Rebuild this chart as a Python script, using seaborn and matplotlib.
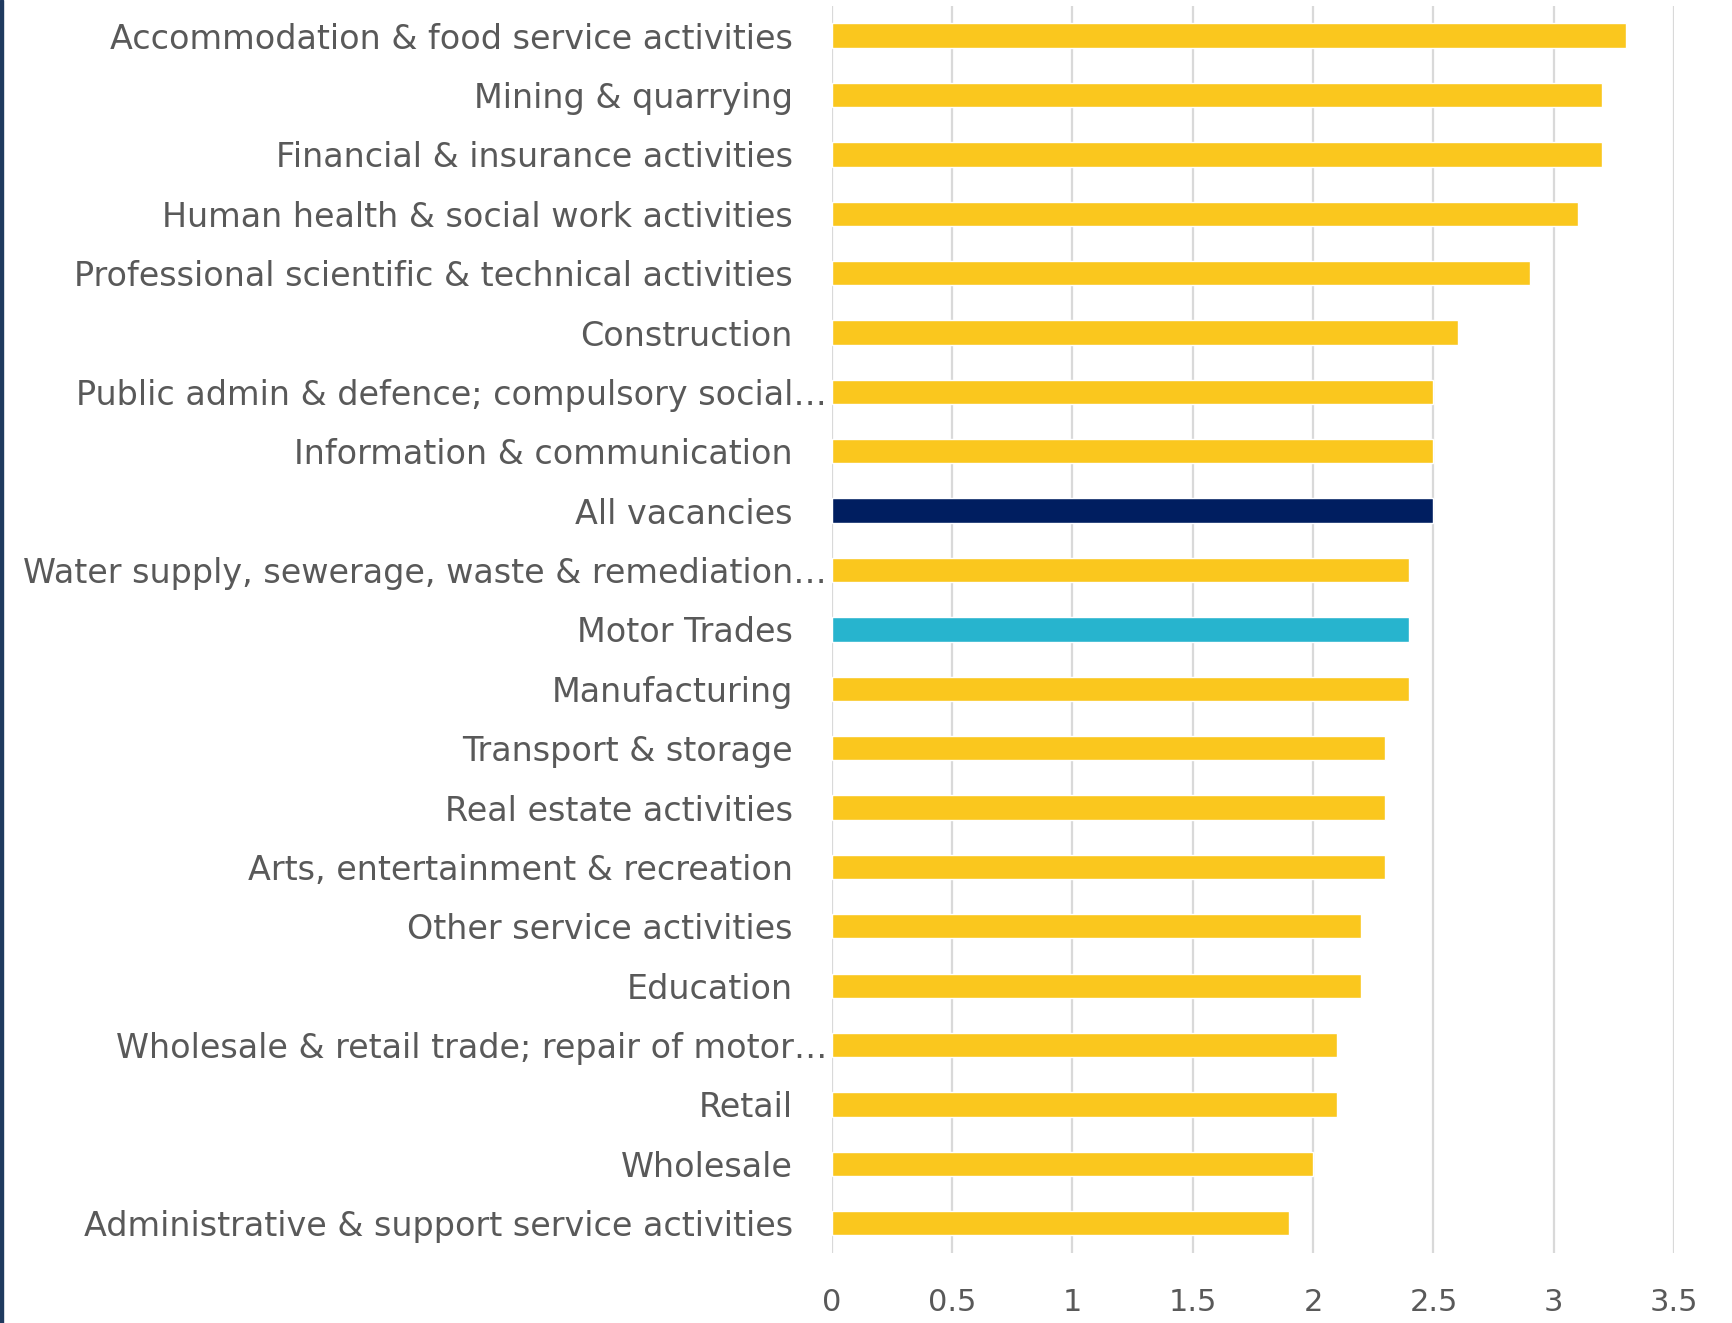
import matplotlib
matplotlib.use("Agg")
import matplotlib.pyplot as plt
import matplotlib.transforms as mtransforms
from matplotlib.patches import Rectangle
import seaborn as sns
import pandas as pd

categories = [
    "Accommodation & food service activities",
    "Mining & quarrying",
    "Financial & insurance activities",
    "Human health & social work activities",
    "Professional scientific & technical activities",
    "Construction",
    "Public admin & defence; compulsory social…",
    "Information & communication",
    "All vacancies",
    "Water supply, sewerage, waste & remediation…",
    "Motor Trades",
    "Manufacturing",
    "Transport & storage",
    "Real estate activities",
    "Arts, entertainment & recreation",
    "Other service activities",
    "Education",
    "Wholesale & retail trade; repair of motor…",
    "Retail",
    "Wholesale",
    "Administrative & support service activities",
]
values = [3.3, 3.2, 3.2, 3.1, 2.9, 2.6, 2.5, 2.5, 2.5, 2.4, 2.4, 2.4,
          2.3, 2.3, 2.3, 2.2, 2.2, 2.1, 2.1, 2.0, 1.9]
x_ticks = [0, 0.5, 1, 1.5, 2, 2.5, 3, 3.5]
x_tick_labels = ["0", "0.5", "1", "1.5", "2", "2.5", "3", "3.5"]

YELLOW = "#FAC71E"
NAVY = "#001E60"
TEAL = "#27B4CE"
palette = {c: YELLOW for c in categories}
palette["All vacancies"] = NAVY
palette["Motor Trades"] = TEAL

sns.set_theme(style="white")
plt.rcParams["font.family"] = ["DejaVu Sans"]

df = pd.DataFrame({"category": categories, "value": values})

fig = plt.figure(figsize=(17.33, 13.23), dpi=100)
ax = fig.add_axes([0.480, 0.053, 0.486, 0.9425])

sns.barplot(data=df, x="value", y="category", hue="category", palette=palette,
            order=categories, hue_order=categories, legend=False,
            orient="h", width=0.41, ax=ax, saturation=1)

ax.set_xlim(0, 3.5)
ax.set_ylim(len(categories) - 0.5, -0.5)
ax.set_xticks(x_ticks)
ax.set_xticklabels(x_tick_labels)
ax.set_xlabel("")
ax.set_ylabel("")
for s in ax.spines.values():
    s.set_visible(False)
ax.grid(axis="x", color="#D9D9D9", linewidth=1.6)
ax.grid(axis="y", visible=False)
ax.set_axisbelow(True)
ax.tick_params(axis="x", length=0, pad=25, labelsize=22, labelcolor="#595959")
ax.tick_params(axis="y", length=0, pad=28, labelsize=24, labelcolor="#595959")

# ellipsis-truncated labels sit closer to the axis
offset = mtransforms.ScaledTranslation(34 / 100, 0, fig.dpi_scale_trans)
for lab in ax.get_yticklabels():
    if lab.get_text().endswith("…"):
        lab.set_transform(lab.get_transform() + offset)

fig.patches.append(Rectangle((0, 0), 0.002, 1, transform=fig.transFigure,
                             color="#1F3A5F", zorder=10))

fig.savefig("out.png", dpi=100, facecolor="white")
